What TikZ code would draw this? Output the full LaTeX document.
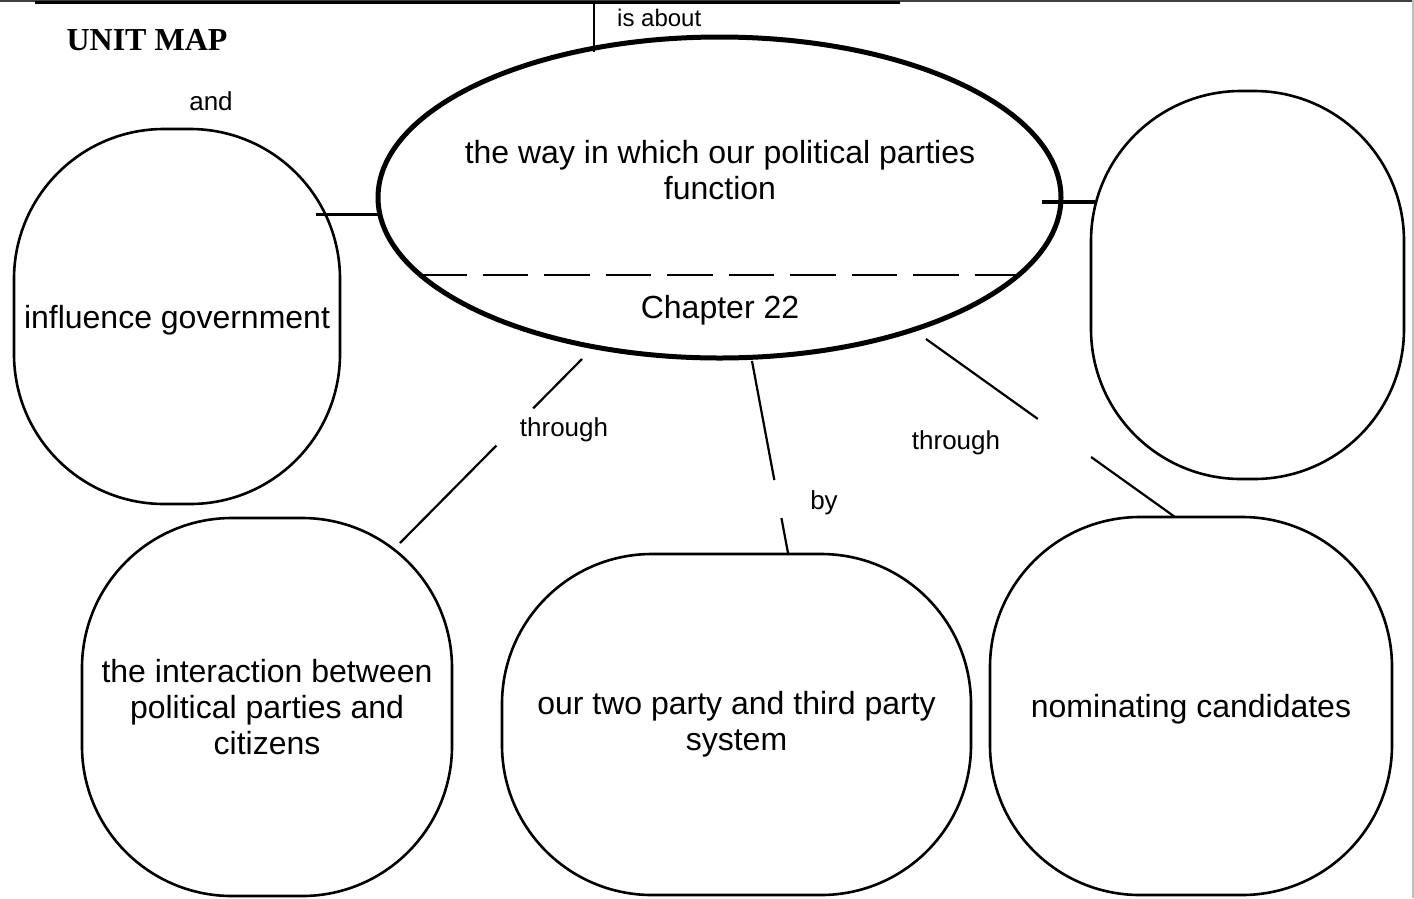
\documentclass[tikz,border=0pt]{standalone}
\usepackage{fontspec}
\setmainfont{Liberation Sans}
\newfontfamily\timesfam{Liberation Serif}
\usetikzlibrary{calc,shapes.geometric}
\begin{document}
\begin{tikzpicture}[x=1pt,y=-1pt,
  bubble/.style={draw,line width=2.6pt,rounded corners=150pt,inner sep=0pt,align=center,font=\fontsize{32}{36}\selectfont},
  conn/.style={line width=2.2pt},
  lbl/.style={inner sep=0pt,font=\fontsize{26}{30}\selectfont},
  big/.style={inner sep=0pt,font=\fontsize{32}{36}\selectfont,align=center}]
\useasboundingbox (0,0) rectangle (1414,898);
% frame
\draw[line width=2pt,black!75] (0,1) -- (1414,1);
\draw[line width=1.5pt,black!25] (1413,0) -- (1413,898);
\draw[line width=3pt] (35,2) -- (900,2);
\coordinate (topbar) at (594,2);
% ellipse
\node[draw,ellipse,line width=5pt,minimum width=683pt,minimum height=321pt,inner sep=0pt] (ell) at (719.5,197.5) {};
\node[big] (t1) at (720,170) {the way in which our political parties\\function};
\node[big,text depth=0pt] (ch) at (720,307) {Chapter 22};
\draw[line width=1.5pt,dash pattern=on 45.5pt off 16pt] ([shift={(-298.5,77.5)}]ell.center) -- ([shift={(300.5,77.5)}]ell.center);
% boxes
\node[bubble,text depth=0pt,minimum width=326pt,minimum height=375pt] (lb) at (177,316.5) {influence government};
\node[bubble,minimum width=313pt,minimum height=388pt] (rb) at (1247.5,285) {};
\node[bubble,minimum width=370pt,minimum height=378pt] (bl) at (267,707) {the interaction between\\political parties and\\citizens};
\node[bubble,minimum width=469pt,minimum height=341pt] (bm) at (736.5,724.5) {our two party and third party\\system};
\node[bubble,text depth=0pt,minimum width=402pt,minimum height=378pt] (br) at (1191,706) {nominating candidates};
% labels
\node[font=\timesfam\bfseries\fontsize{32}{36}\selectfont,inner sep=0pt] (um) at (147,40) {UNIT MAP};
\node[lbl] (land) at (211,101) {and};
\node[lbl,font=\fontsize{24}{28}\selectfont,anchor=west] (lab) at (617,18) {is about};
\node[lbl,text depth=0pt] (lth1) at (564,427) {through};
\node[lbl,text depth=0pt] (lby) at (824,500) {by};
\node[lbl,text depth=0pt] (lth2) at (956,440) {through};
% connectors
\draw[line width=3pt] ([shift={(-341.5,16.5)}]ell.center) -- ([shift={(139,-102.5)}]lb.center);
\draw[line width=3.5pt] ([shift={(322.5,4.5)}]ell.center) -- ([shift={(-152.5,-83)}]rb.center);
\draw[line width=2pt] (topbar) -- ([shift={(-125.5,-145.5)}]ell.center);
\coordinate (a1) at ([shift={(-137.5,161.5)}]ell.center);
\coordinate (b1) at ([shift={(133,-164)}]bl.center);
\draw[conn] (a1) -- ($(a1)!0.268!(b1)$) ($(a1)!0.47!(b1)$) -- (b1);
\coordinate (a2) at ([shift={(32.5,163.5)}]ell.center);
\coordinate (b2) at ([shift={(51.5,-171.5)}]bm.center);
\draw[conn] (a2) -- ($(a2)!0.62!(b2)$) ($(a2)!0.818!(b2)$) -- (b2);
\coordinate (a3) at ([shift={(206.5,141.5)}]ell.center);
\coordinate (b3) at ([shift={(-16,-189)}]br.center);
\draw[conn] (a3) -- ($(a3)!0.449!(b3)$) ($(a3)!0.663!(b3)$) -- (b3);
\end{tikzpicture}
\end{document}
